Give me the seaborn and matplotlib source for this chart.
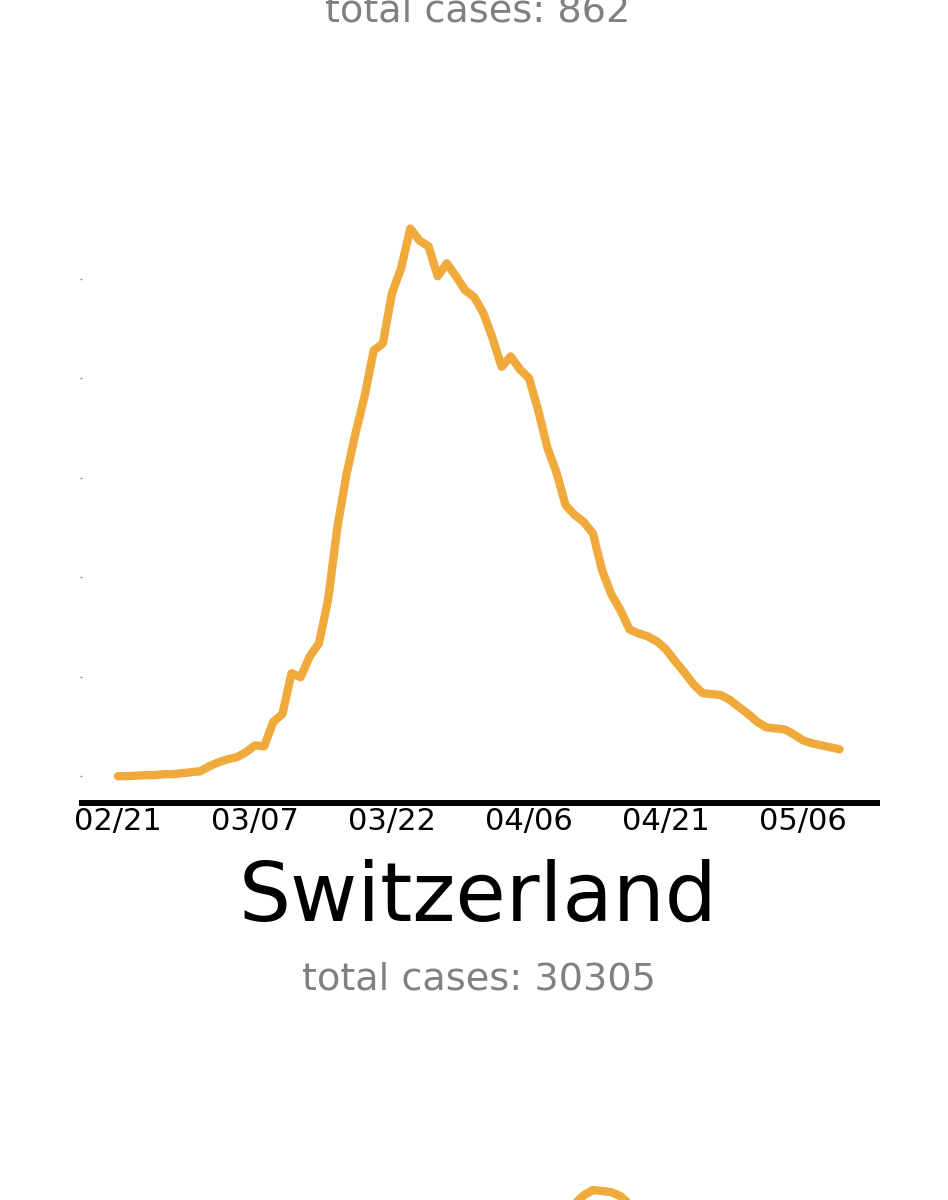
import pandas as pd
import numpy as np
import matplotlib
matplotlib.use('Agg')
import matplotlib.pyplot as plt
import matplotlib.dates as mdates
import seaborn as sns

# Dados: média de novos casos por dia (Suíça), a partir de 21/02
start_date = '2020-02-21'
new_cases = [0, 0, 1, 2, 2, 4, 4, 6, 8, 10,
             20, 28, 34, 38, 48, 62, 60, 109, 125, 207,
             199, 241, 267, 354, 498, 605, 689, 764, 856, 870,
             971, 1021, 1101, 1077, 1065, 1005, 1031, 1005, 977, 963,
             931, 881, 823, 844, 818, 800, 736, 661, 611, 545,
             525, 511, 488, 414, 366, 334, 295, 287, 281, 271,
             255, 231, 209, 185, 167, 165, 163, 153, 139, 125,
             109, 98, 96, 94, 84, 72, 66, 62, 58, 54]
country = 'Switzerland'
total_cases = 30305
prev_total_cases = 862
tick_labels = ['02/21', '03/07', '03/22', '04/06', '04/21', '05/06']

# pico do gráfico seguinte (só a ponta aparece no fundo)
next_days = [46, 47, 48, 49, 50, 51, 52, 53, 54, 55, 56, 57, 58]
next_values = [70, 78, 84, 90, 93, 96.4, 98.4, 98, 97.6, 96, 93, 88, 82]

orange = '#F0A93B'

df = pd.DataFrame({'date': pd.date_range(start_date, periods=len(new_cases)),
                   'cases': new_cases})
df_next = pd.DataFrame({'date': pd.Timestamp(start_date) + pd.to_timedelta(next_days, unit='D'),
                        'cases': next_values})

sns.set_style('white')
plt.rcParams['font.family'] = ['DejaVu Sans']

fig = plt.figure(figsize=(9.48, 12), dpi=100)
ax = fig.add_axes([0.0865, 0.3308, 0.8386, 0.4908])

sns.lineplot(data=df, x='date', y='cases', color=orange, linewidth=6, ax=ax)

t0 = pd.Timestamp(start_date)
ax.set_xlim(t0 - pd.Timedelta(days=3.94), t0 + pd.Timedelta(days=83.1))
ax.set_ylim(-54, 1130)
ax.set_xticks(pd.date_range(start_date, periods=len(tick_labels), freq='15D'))
ax.set_xticklabels(tick_labels)
ax.set_yticks(range(0, 1001, 200))
ax.set_yticklabels([])
ax.tick_params(axis='x', length=0, pad=3, labelsize=22, labelcolor='black')
ax.tick_params(axis='y', left=True, length=1.2, width=1, color='#888888')
ax.set_xlabel('')
ax.set_ylabel('')
for s in ['top', 'right', 'left']:
    ax.spines[s].set_visible(False)
ax.spines['bottom'].set_linewidth(4.3)
ax.spines['bottom'].set_color('black')
ax.grid(False)

# próximo gráfico, cortado na parte de baixo
ax2 = fig.add_axes([0.0865, -0.2, 0.8386, 0.2 + (1 - 1186 / 1200)])
sns.lineplot(data=df_next, x='date', y='cases', color=orange, linewidth=6, ax=ax2)
ax2.set_xlim(ax.get_xlim())
ax2.set_ylim(0, 100)
ax2.axis('off')

fig.text(0.504, 1 - 22 / 1200, f'total cases: {prev_total_cases}', ha='center',
         va='baseline', fontsize=27.5, color='#808080')
fig.text(0.504, 1 - 921 / 1200, country, ha='center', va='baseline',
         fontsize=59, color='black')
fig.text(0.505, 1 - 989 / 1200, f'total cases: {total_cases}', ha='center',
         va='baseline', fontsize=27.5, color='#808080')

plt.savefig('out.png', dpi=100, facecolor='white')
